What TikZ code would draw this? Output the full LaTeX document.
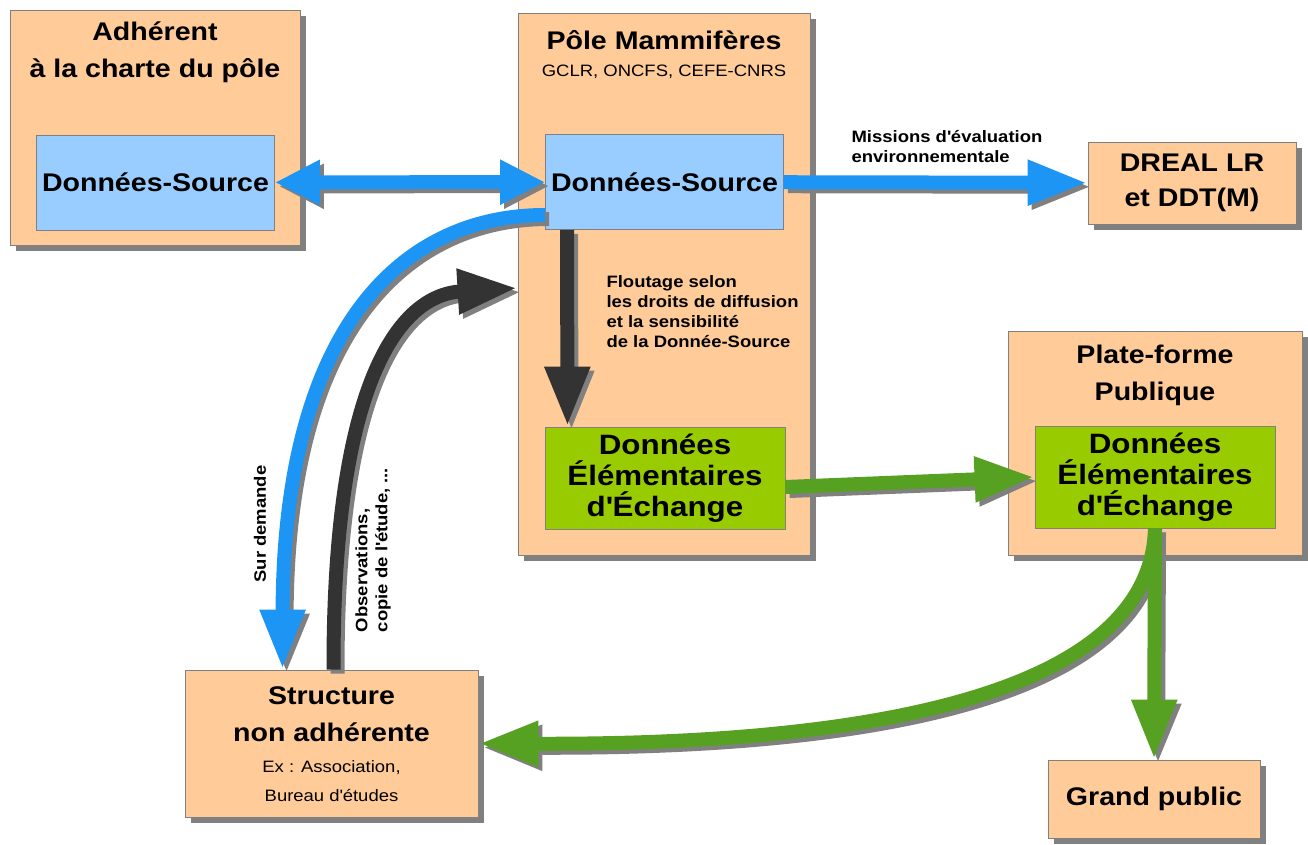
\documentclass[tikz,border=0pt]{standalone}
\usepackage{fontspec}
\setmainfont{Liberation Sans}[FakeStretch=1.12]
\usetikzlibrary{arrows.meta,shadows}

\definecolor{peche}{HTML}{FFCC99}
\definecolor{ciel}{HTML}{99CCFF}
\definecolor{anis}{HTML}{99CC00}
\definecolor{fleuve}{HTML}{1C95F5}
\definecolor{herbe}{HTML}{56A022}
\definecolor{ardoise}{HTML}{333333}
\definecolor{trait}{HTML}{808080}

\tikzset{
	cadre/.style={draw=trait, fill=peche, line width=0.8pt,
		drop shadow={shadow xshift=6pt, shadow yshift=-6pt, fill=trait, opacity=1}},
	titre/.style={font=\bfseries\fontsize{25.5}{37}\selectfont, align=center},
	source/.style={draw=trait, fill=ciel, line width=0.8pt, minimum width=238pt,
		minimum height=95pt, font=\bfseries\fontsize{25.5}{30}\selectfont},
	echange/.style={draw=trait, fill=anis, line width=0.8pt, minimum width=240pt,
		minimum height=102pt, align=center, font=\bfseries\fontsize{28}{31}\selectfont},
	petit/.style={font=\fontsize{16.5}{29}\selectfont, align=center},
	note/.style={font=\bfseries\fontsize{16.5}{20}\selectfont, align=left},
	flot/.style={line width=14pt, -{Triangle[length=60pt,width=42pt]}},
	flots/.style={line width=14pt, {Triangle[length=45pt,width=42pt]}-{Triangle[length=45pt,width=42pt]}},
}

\newcommand\apo{\textquotesingle}

% chaque fleche est tracee deux fois : ombre grise, puis couleur
\newcommand\ombre[2]{%
	\draw[#1, draw=trait, transform canvas={xshift=4pt,yshift=-4pt}] #2;
	\draw[#1] #2;}

\begin{document}
\begin{tikzpicture}[x=1pt, y=-1pt]

	\useasboundingbox (0,0) rectangle (1308,845);

	\node[cadre, minimum width=290pt, minimum height=235pt] (adh) at (155,127.5) {};
	\node[titre] (adhT) at (155,52) {Adhérent\\à la charte du pôle};
	\node[source] (dsA) at (155.5,182.5) {Données-Source};

	\node[cadre, minimum width=292pt, minimum height=542pt] (pole) at (664,284) {};
	\node[titre] (poleT) at (664,40) {Pôle Mammifères};
	\node[petit] (poleS) at (664,72) {GCLR, ONCFS, CEFE-CNRS};
	\node[source] (dsP) at (664.5,182) {Données-Source};
	\node[echange] (depP) at (665,478) {Données\\Élémentaires\\d\apo Échange};
	\node[note, anchor=north west] (flou) at (603,272) {Floutage selon\\les droits de diffusion\\et la sensibilité\\de la Donnée-Source};

	\node[cadre, titre, font=\bfseries\fontsize{25.5}{35}\selectfont, minimum width=208pt, minimum height=82pt] (dreal) at (1192,183) {DREAL LR\\et DDT(M)};
	\node[note, anchor=south west] (miss) at (848,166) {Missions d\apo évaluation\\environnementale};

	\node[cadre, minimum width=294pt, minimum height=224pt] (pf) at (1155,443) {};
	\node[titre] (pfT) at (1155,375) {Plate-forme\\Publique};
	\node[echange] (depF) at (1155,477) {Données\\Élémentaires\\d\apo Échange};

	\node[cadre, minimum width=293pt, minimum height=147pt] (str) at (331.5,743.5) {};
	\node[titre] (strT) at (331.5,714) {Structure\\non adhérente};
	\node[petit] (strS) at (331.5,781) {Ex : Association,\\Bureau d\apo études};

	\node[cadre, titre, minimum width=212pt, minimum height=78pt] (gp) at (1154,799) {Grand public};

	\node[note, rotate=90] (surd) at (260,524) {Sur demande};
	\node[note, rotate=90] (obs) at (373,550) {Observations,\\copie de l\apo étude, ...};

	\ombre{flots, fleuve}{(dsA) -- (dsP)}
	\ombre{flot, fleuve}{(dsP) -- (dreal)}
	\ombre{flot, ardoise}{([xshift=-97.5pt]dsP.south) -- ([xshift=-97.5pt]depP.north)}
	\ombre{flot, herbe}{([yshift=-9pt]depP.east) -- (depF.west)}
	\ombre{flot, fleuve}{([yshift=-33pt]dsP.west) .. controls (400,215) and (283,330) .. ([xshift=-49pt]str.north)}
	\ombre{flot, ardoise}{([xshift=2pt]str.north) .. controls (333,380) and (400,295) .. ([yshift=-4pt]pole.west)}
	\ombre{flot, herbe}{(depF.south) .. controls (1150,700) and (850,745) .. (str.east)}
	\ombre{flot, herbe}{(depF.south) -- (gp.north)}

\end{tikzpicture}
\end{document}
